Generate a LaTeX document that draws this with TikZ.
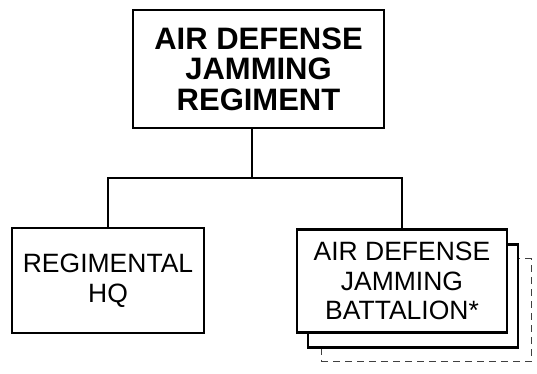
\documentclass[tikz,border=0pt]{standalone}
\usepackage{fontspec}
\setmainfont{Liberation Sans}
\begin{document}
\begin{tikzpicture}[x=1pt,y=-1pt,
  box/.style={draw=black, line width=2.4pt, fill=white, align=center, inner sep=0pt},
  bigtext/.style={font=\fontsize{31}{30.5}\selectfont\bfseries},
  smalltext/.style={font=\fontsize{26.5}{29.5}\selectfont},
  conn/.style={draw=black, line width=2.2pt},
  ghost/.style={draw=black!75, line width=1pt, dash pattern=on 7pt off 5pt, fill=white}]
\useasboundingbox (0,0) rectangle (537,373);
% stacked battalion boxes
\node[ghost, minimum width=210pt, minimum height=103pt] (bat3) at (426,310) {};
\node[box, minimum width=210pt, minimum height=103pt] (bat2) at (413,296) {};
\node[box, smalltext, minimum width=210pt, minimum height=103pt] (bat) at (402,281) {AIR DEFENSE\\JAMMING\\BATTALION*};
\node[box, bigtext, minimum width=251pt, minimum height=118pt] (top) at (258.5,69) {AIR DEFENSE\\JAMMING\\REGIMENT};
\node[box, smalltext, minimum width=192pt, minimum height=105pt] (hq) at (108,280.5) {REGIMENTAL\\HQ};
\coordinate (j) at (252,178);
\draw[conn] (top.south -| j) -- (j);
\draw[conn] (hq.north) |- (j) -| (bat.north);
\end{tikzpicture}
\end{document}
